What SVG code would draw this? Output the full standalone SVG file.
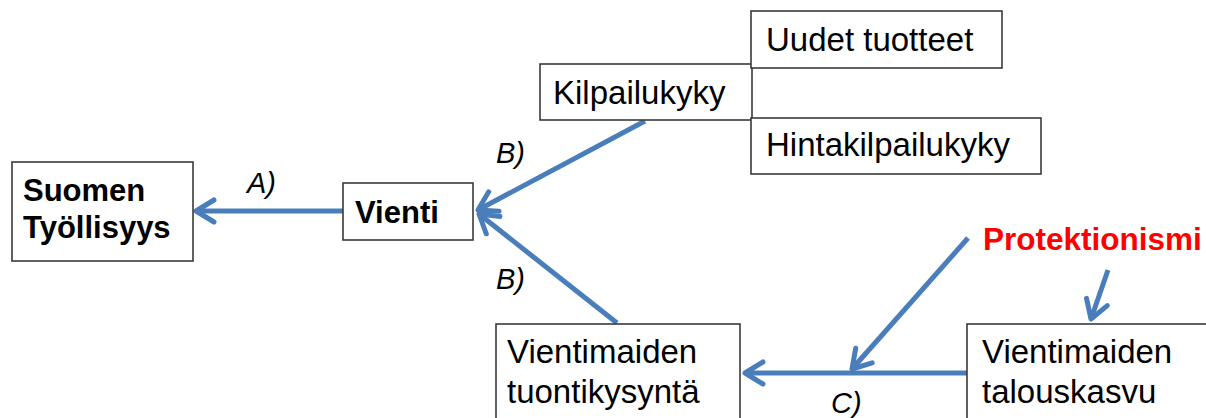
<svg xmlns="http://www.w3.org/2000/svg" width="1206" height="418" viewBox="0 0 1206 418">
<style>
.box{fill:#fff;stroke:#3a3a3a;stroke-width:1.6}
.t{font-family:"Liberation Sans",Arial,sans-serif;font-size:33px;fill:#000}
.b{font-family:"Liberation Sans",Arial,sans-serif;font-size:31px;font-weight:bold;fill:#000}
.lbl{font-family:"Liberation Sans",Arial,sans-serif;font-size:29px;font-style:italic;fill:#000}
.con{stroke:#4a7ebb;stroke-width:5;fill:none;marker-end:url(#arr)}
</style>
<defs>
<marker id="arr" markerUnits="userSpaceOnUse" viewBox="0 0 30 30" markerWidth="30" markerHeight="30" refX="22" refY="15" orient="auto">
<path d="M4,4 L22,15 L4,26" fill="none" stroke="#4a7ebb" stroke-width="5" stroke-linecap="round" stroke-linejoin="round"/>
</marker>
</defs>
<g id="connectors">
<line class="con" x1="343" y1="211" x2="196" y2="211"/>
<line class="con" x1="645" y1="121" x2="478" y2="210"/>
<line class="con" x1="617" y1="323" x2="479" y2="214"/>
<line class="con" x1="967" y1="373" x2="745" y2="373"/>
<line class="con" x1="968" y1="238" x2="852" y2="369"/>
<line class="con" x1="1108" y1="270" x2="1091" y2="319"/>
<text class="lbl" x="247" y="193">A)</text>
<text class="lbl" x="496" y="163">B)</text>
<text class="lbl" x="496" y="289">B)</text>
<text class="lbl" x="831" y="413">C)</text>
</g>
<g id="suomen">
<rect class="box" x="12" y="162" width="181" height="99"/>
<text class="b" x="23" y="201">Suomen</text>
<text class="b" x="23" y="238">Työllisyys</text>
</g>
<g id="vienti">
<rect class="box" x="343" y="183" width="130" height="57"/>
<text class="b" x="355" y="223">Vienti</text>
</g>
<g id="kilpailukyky">
<rect class="box" x="540" y="64" width="212" height="56"/>
<text class="t" x="553" y="104">Kilpailukyky</text>
</g>
<g id="uudet">
<rect class="box" x="751" y="11" width="251" height="57"/>
<text class="t" x="766" y="51">Uudet tuotteet</text>
</g>
<g id="hinta">
<rect class="box" x="751" y="118" width="290" height="56"/>
<text class="t" x="766" y="156">Hintakilpailukyky</text>
</g>
<g id="protektionismi">
<text class="b" x="983" y="250" style="fill:#ff0000;font-size:31.5px">Protektionismi</text>
</g>
<g id="tuontikysynta">
<rect class="box" x="496" y="324" width="244" height="110"/>
<text class="t" x="507" y="363">Vientimaiden</text>
<text class="t" x="507" y="403">tuontikysyntä</text>
</g>
<g id="talouskasvu">
<rect class="box" x="967" y="324" width="250" height="110"/>
<text class="t" x="982" y="363">Vientimaiden</text>
<text class="t" x="982" y="403">talouskasvu</text>
</g>
</svg>
